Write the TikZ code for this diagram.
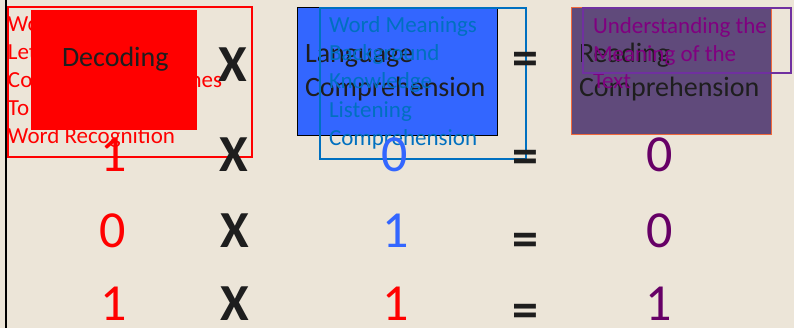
\documentclass[tikz,border=0pt]{standalone}
\usepackage{fontspec}
\setmainfont{Carlito}
\definecolor{bg}{RGB}{236,229,216}
\definecolor{txt}{RGB}{30,30,30}
\definecolor{myred}{RGB}{255,0,0}
\definecolor{blbox}{RGB}{51,102,255}
\definecolor{bldig}{RGB}{51,102,255}
\definecolor{blline}{RGB}{0,112,192}
\definecolor{blfont}{RGB}{0,112,192}
\definecolor{pubox}{RGB}{96,74,123}
\definecolor{puedge}{RGB}{240,105,60}
\definecolor{puline}{RGB}{112,48,160}
\definecolor{pufont}{RGB}{128,0,128}
\definecolor{pudig}{RGB}{102,0,102}
\begin{document}
\begin{tikzpicture}[x=1pt,y=-1pt,
  every node/.style={inner sep=0pt,outer sep=0pt},
  dig/.style={font=\fontsize{52}{60}\selectfont,anchor=center},
  opx/.style={font=\bfseries\fontsize{52}{60}\selectfont,anchor=center,text=txt},
  head/.style={font=\fontsize{28}{34}\selectfont,anchor=base west,text=txt},
  note/.style={font=\fontsize{23}{28}\selectfont,anchor=base west}]
\useasboundingbox (0,0) rectangle (794,328);
\fill[bg] (0,0) rectangle (794,328);
\draw[line width=2pt,black] (6,0) -- (6,328);
% left column
\node[note,text=myred] (r1) at (8,32) {Word Attack};
\node[note,text=myred] (r2) at (8,60) {Letter Sounds};
\node[note,text=myred] (r3) at (8,88) {Converting Graphemes};
\node[note,text=myred] (r4) at (8,116) {To Phonemes};
\node[note,text=myred] (r5) at (8,144) {Word Recognition};
\fill[myred] (31,10) rectangle (197,130);
\draw[myred,line width=2pt] (8,7) rectangle (252,157);
\node[head] (dec) at (62,67) {Decoding};
% middle column
\fill[blbox,draw=black,line width=0.8pt] (297,7) rectangle (497,135);
\node[head] (lc1) at (305,63) {Language};
\node[head] (lc2) at (305,97) {Comprehension};
\node[note,text=blfont] (b1) at (329,33) {Word Meanings};
\node[note,text=blfont] (b2) at (329,61) {Background};
\node[note,text=blfont] (b3) at (329,89) {Knowledge};
\node[note,text=blfont] (b4) at (329,118) {Listening};
\node[note,text=blfont] (b5) at (329,146) {Comprehension};
\draw[blline,line width=2pt] (320,8) rectangle (526,159);
% right column
\fill[pubox,draw=puedge,line width=0.8pt] (571,7) rectangle (771,134);
\node[head] (rc1) at (579,63) {Reading};
\node[head] (rc2) at (579,97) {Comprehension};
\node[note,text=pufont] (p1) at (593,34) {Understanding the};
\node[note,text=pufont] (p2) at (593,62) {Meaning of the};
\node[note,text=pufont] (p3) at (593,89) {Text};
\draw[puline,line width=2pt] (583,8) rectangle (791,73);
% operators
\node[opx] (x1) at (233,65) {X};
\node[opx] (x2) at (234,155) {X};
\node[opx] (x3) at (235,231) {X};
\node[opx] (x4) at (235,304) {X};
\node[opx] (e1) at (525,64) {=};
\node[opx] (e2) at (525,161.5) {=};
\node[opx] (e3) at (525,244.5) {=};
\node[opx] (e4) at (525,315.5) {=};
% digits
\node[dig,text=myred] (d21) at (114,155) {1};
\node[dig,text=bldig] (d22) at (395,155) {0};
\node[dig,text=pudig] (d23) at (660,155) {0};
\node[dig,text=myred] (d31) at (113,231) {0};
\node[dig,text=bldig] (d32) at (396,231) {1};
\node[dig,text=pudig] (d33) at (660,231) {0};
\node[dig,text=myred] (d41) at (114,304) {1};
\node[dig,text=myred] (d42) at (396,304) {1};
\node[dig,text=pudig] (d43) at (659,304) {1};
\end{tikzpicture}
\end{document}
